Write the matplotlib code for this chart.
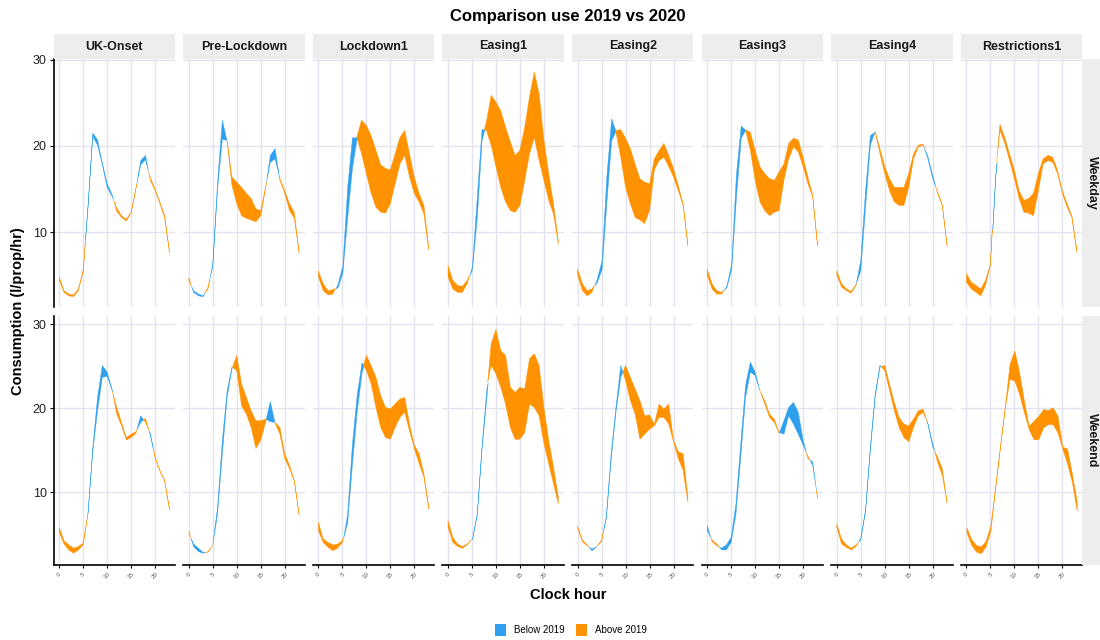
import numpy as np
import matplotlib
matplotlib.use('Agg')
import matplotlib.pyplot as plt
from matplotlib.patches import Patch

plt.rcParams['font.family'] = ['Liberation Sans', 'DejaVu Sans']

hours = np.arange(24)
periods = ['UK-Onset', 'Pre-Lockdown', 'Lockdown1', 'Easing1',
           'Easing2', 'Easing3', 'Easing4', 'Restrictions1']
day_types = ['Weekday', 'Weekend']

# consumption (l/prop/hr) by clock hour, one list per period
weekday_2019 = [
    [4.4, 3.0, 2.6, 2.5, 3.2, 5.4, 13.0, 21.5, 20.7, 18.0, 15.6, 14.4, 12.4, 11.7, 11.3, 12.2, 15.0, 18.3, 18.9, 16.0, 14.8, 13.3, 11.6, 7.6],
    [4.4, 3.2, 2.8, 2.6, 3.4, 6.3, 15.8, 23.0, 20.5, 15.4, 13.3, 11.9, 11.6, 11.4, 11.2, 11.9, 15.0, 18.9, 19.7, 16.0, 14.5, 12.5, 11.6, 7.6],
    [4.8, 3.2, 2.7, 2.8, 4.0, 6.1, 15.2, 21.0, 21.0, 19.1, 16.8, 14.5, 12.9, 12.3, 12.2, 13.3, 15.6, 17.9, 18.9, 16.4, 14.5, 13.5, 12.1, 7.9],
    [4.8, 3.4, 3.0, 3.0, 4.0, 6.1, 14.1, 22.0, 21.8, 20.1, 17.6, 15.2, 13.5, 12.5, 12.3, 13.1, 16.0, 19.1, 21.0, 18.3, 16.0, 13.7, 12.1, 8.6],
    [5.0, 3.2, 2.6, 3.0, 4.6, 6.7, 16.5, 23.2, 21.6, 18.7, 15.2, 13.3, 11.7, 11.4, 11.0, 12.5, 17.2, 18.3, 18.7, 17.6, 16.4, 14.8, 13.1, 8.4],
    [5.0, 3.4, 2.8, 2.8, 3.8, 6.3, 16.8, 22.4, 21.8, 19.5, 16.0, 13.5, 12.5, 11.9, 12.3, 12.5, 16.0, 18.5, 19.9, 19.3, 17.6, 15.6, 14.1, 8.4],
    [5.0, 3.6, 3.2, 2.9, 3.8, 6.7, 14.8, 21.2, 21.6, 19.1, 16.8, 14.8, 13.5, 13.1, 13.1, 15.2, 18.5, 19.9, 20.1, 18.8, 16.6, 14.5, 13.1, 8.4],
    [4.2, 3.4, 3.0, 2.6, 3.8, 6.1, 16.6, 21.8, 20.3, 18.3, 16.2, 13.9, 12.3, 12.2, 11.9, 14.8, 17.9, 18.3, 18.1, 16.8, 14.5, 12.9, 11.7, 7.7],
]
weekday_2020 = [
    [4.8, 3.2, 2.8, 2.7, 3.4, 5.6, 12.8, 21.1, 20.1, 17.8, 15.2, 14.2, 12.8, 11.9, 11.5, 12.3, 15.1, 17.8, 18.4, 16.3, 15.0, 13.5, 11.9, 7.7],
    [4.7, 3.0, 2.6, 2.5, 3.6, 6.0, 15.0, 20.8, 20.6, 16.4, 15.8, 15.2, 14.5, 13.9, 12.7, 12.5, 15.2, 18.1, 18.5, 16.2, 14.8, 13.3, 12.3, 7.7],
    [5.5, 4.0, 3.2, 3.3, 3.6, 5.3, 11.7, 17.5, 21.0, 23.0, 22.4, 21.2, 19.5, 17.8, 17.4, 17.2, 19.1, 21.0, 21.8, 19.1, 16.4, 14.5, 13.1, 8.3],
    [6.1, 4.4, 3.8, 3.7, 4.4, 5.7, 11.7, 20.7, 22.8, 25.9, 25.1, 24.1, 22.2, 20.5, 18.9, 19.5, 22.2, 25.7, 28.6, 26.1, 20.7, 16.8, 13.3, 9.0],
    [5.7, 4.0, 3.2, 3.4, 4.2, 5.7, 13.5, 20.7, 21.8, 21.9, 20.9, 19.7, 17.9, 16.2, 15.8, 15.6, 18.5, 19.5, 20.3, 18.9, 17.4, 15.4, 13.3, 8.6],
    [5.7, 4.0, 3.2, 3.0, 3.6, 5.7, 14.1, 21.0, 21.9, 21.6, 19.5, 17.6, 16.8, 16.2, 16.0, 17.0, 17.9, 20.3, 20.9, 20.7, 18.7, 16.4, 14.3, 8.6],
    [5.5, 4.0, 3.4, 3.1, 3.9, 5.5, 12.9, 20.1, 21.7, 19.7, 17.6, 16.2, 15.2, 15.2, 15.2, 16.8, 19.1, 20.1, 20.2, 18.5, 16.2, 14.7, 13.2, 8.4],
    [5.2, 4.2, 3.8, 3.4, 4.4, 6.3, 16.3, 22.5, 21.0, 19.1, 17.2, 14.8, 13.7, 13.9, 14.5, 16.8, 18.5, 18.9, 18.7, 17.2, 14.8, 13.3, 11.9, 8.1],
]
weekend_2019 = [
    [5.2, 3.8, 3.1, 2.7, 3.1, 3.7, 7.4, 15.3, 21.3, 25.1, 24.3, 22.3, 19.3, 17.9, 16.2, 16.5, 17.0, 19.1, 18.3, 17.0, 14.1, 12.5, 11.3, 7.9],
    [5.1, 3.8, 3.3, 2.8, 2.8, 3.7, 8.2, 16.2, 22.1, 24.9, 24.5, 20.3, 19.3, 17.7, 15.2, 16.2, 18.3, 20.8, 18.2, 16.9, 14.0, 12.8, 11.3, 7.3],
    [5.4, 4.0, 3.4, 3.0, 3.3, 4.0, 7.4, 15.8, 21.7, 25.5, 24.5, 22.9, 20.1, 17.7, 16.5, 16.3, 17.7, 18.9, 19.5, 17.3, 15.2, 13.4, 11.8, 8.0],
    [5.8, 4.0, 3.5, 3.3, 3.7, 4.4, 7.5, 15.6, 22.3, 25.1, 24.1, 22.5, 20.5, 17.7, 16.3, 16.3, 17.1, 20.5, 20.1, 19.1, 15.8, 13.4, 11.0, 8.6],
    [5.7, 4.1, 3.6, 3.2, 3.5, 4.1, 7.1, 14.6, 20.1, 25.1, 23.3, 20.9, 19.3, 16.3, 16.9, 17.5, 17.9, 18.9, 18.9, 18.1, 16.0, 14.0, 12.6, 8.8],
    [6.0, 4.1, 3.6, 3.3, 3.7, 4.6, 8.6, 15.8, 22.7, 25.5, 24.3, 22.1, 20.5, 18.9, 18.3, 17.0, 18.5, 20.1, 20.7, 19.5, 16.2, 14.0, 13.6, 9.3],
    [5.8, 3.8, 3.4, 3.1, 3.5, 4.5, 7.9, 15.4, 21.7, 25.1, 24.5, 22.1, 19.7, 17.7, 16.5, 16.0, 17.7, 19.1, 19.5, 18.2, 15.8, 13.6, 12.0, 8.7],
    [5.2, 3.7, 2.9, 2.7, 3.5, 5.4, 10.5, 15.3, 20.0, 23.5, 23.3, 21.7, 19.5, 17.5, 16.3, 16.3, 17.7, 18.1, 18.1, 17.1, 15.2, 13.4, 11.2, 7.8],
]
weekend_2020 = [
    [5.8, 4.2, 3.7, 3.3, 3.5, 3.9, 7.4, 14.8, 19.7, 23.7, 23.8, 22.2, 20.1, 18.3, 16.5, 16.9, 17.2, 18.3, 18.8, 16.8, 14.2, 12.6, 11.4, 8.0],
    [5.3, 3.5, 2.9, 2.7, 2.9, 3.7, 7.4, 14.6, 21.3, 24.7, 26.3, 22.9, 21.3, 19.7, 18.5, 18.5, 18.7, 18.4, 18.3, 17.7, 14.6, 13.2, 11.4, 7.4],
    [6.4, 4.4, 4.0, 3.7, 3.8, 4.2, 6.4, 13.4, 19.7, 24.3, 26.3, 25.1, 23.7, 21.5, 20.1, 19.9, 20.5, 21.1, 21.3, 18.1, 15.6, 14.6, 12.2, 8.3],
    [6.6, 4.6, 3.8, 3.5, 3.8, 4.4, 7.3, 15.2, 21.3, 27.7, 29.4, 26.9, 26.3, 22.5, 21.9, 22.5, 22.3, 25.9, 26.5, 25.1, 20.1, 16.2, 13.0, 9.4],
    [5.9, 4.3, 3.7, 3.0, 3.5, 4.3, 6.9, 13.9, 19.5, 23.7, 25.1, 23.7, 22.3, 20.9, 19.1, 19.2, 18.1, 20.5, 19.9, 20.5, 16.2, 14.8, 14.6, 9.4],
    [5.4, 4.3, 3.8, 3.1, 3.1, 4.0, 7.4, 14.2, 21.3, 24.3, 23.9, 22.1, 20.9, 19.3, 18.7, 17.1, 16.9, 19.1, 18.1, 16.9, 15.6, 14.3, 13.2, 9.4],
    [6.2, 4.4, 3.7, 3.3, 3.7, 4.3, 7.7, 15.0, 21.3, 24.9, 25.1, 22.9, 20.7, 18.9, 18.1, 17.9, 18.7, 19.7, 19.9, 18.1, 15.4, 14.2, 12.8, 8.8],
    [5.8, 4.4, 3.7, 3.5, 4.2, 6.0, 10.7, 15.5, 20.2, 25.3, 26.9, 24.3, 20.9, 17.9, 18.5, 19.1, 19.9, 19.8, 20.1, 19.1, 15.4, 15.2, 12.2, 9.0],
]

blue = '#2EA0EE'
orange = '#FF9200'
grid_col = '#E3E3EE'
strip_col = '#EDEDED'

W, H = 1100, 640
fig = plt.figure(figsize=(W / 100, H / 100), dpi=100)


def box(x, y, w, h):
    # pixel box (top-left origin) -> figure fraction
    return [x / W, 1 - (y + h) / H, w / W, h / H]


panel_w, step = 121.3, 129.6
rows = [(weekday_2019, weekday_2020, 59, 248, (1.3, 30.1)),
        (weekend_2019, weekend_2020, 316, 249, (1.3, 31.0))]

for r, (base, cur, top, height, ylim) in enumerate(rows):
    for i, period in enumerate(periods):
        left = 53.7 + i * step
        ax = fig.add_axes(box(left, top, panel_w, height))
        y19 = np.array(base[i])
        y20 = np.array(cur[i])
        ax.fill_between(hours, y19, y20, where=y20 < y19, interpolate=True,
                        facecolor=blue, edgecolor=blue, lw=0.3)
        ax.fill_between(hours, y19, y20, where=y20 >= y19, interpolate=True,
                        facecolor=orange, edgecolor=orange, lw=0.3)
        ax.set_xlim(-1.15, 24.15)
        ax.set_ylim(*ylim)
        ax.set_xticks([0, 5, 10, 15, 20])
        ax.set_yticks([10, 20, 30])
        ax.grid(True, color=grid_col, lw=1.0)
        ax.set_axisbelow(True)
        for s in ax.spines.values():
            s.set_visible(False)

        if i == 0:
            ax.spines['left'].set_visible(True)
            ax.spines['left'].set_linewidth(1.2)
            ax.tick_params(axis='y', length=3, width=0.8, labelsize=9,
                           labelcolor='#222222', pad=2)
        else:
            ax.tick_params(axis='y', length=0, labelleft=False)

        if r == 1:
            ax.spines['bottom'].set_visible(True)
            ax.spines['bottom'].set_linewidth(1.2)
            ax.tick_params(axis='x', length=2.5, width=0.8, labelsize=4.5,
                           labelcolor='#555555', pad=2)
            for lab in ax.get_xticklabels():
                lab.set_rotation(45)
        else:
            ax.tick_params(axis='x', length=0, labelbottom=False)

        if r == 0:
            st = fig.add_axes(box(left, 34, panel_w, 25))
            st.set_facecolor(strip_col)
            st.set_xticks([])
            st.set_yticks([])
            for s in st.spines.values():
                s.set_visible(False)
            st.text(0.5, 0.5, period, ha='center', va='center',
                    fontsize=9, fontweight='bold', color='#1a1a1a',
                    transform=st.transAxes)

    rs = fig.add_axes(box(1082, top, 18, height))
    rs.set_facecolor(strip_col)
    rs.set_xticks([])
    rs.set_yticks([])
    for s in rs.spines.values():
        s.set_visible(False)
    rs.text(0.55, 0.5, day_types[r], ha='center', va='center', rotation=-90,
            fontsize=9, fontweight='bold', color='#1a1a1a',
            transform=rs.transAxes)

fig.text(568 / W, 1 - 16 / H, 'Comparison use 2019 vs 2020', ha='center',
         va='center', fontsize=12, fontweight='bold')
fig.text(18 / W, 1 - 311 / H, 'Consumption (l/prop/hr)', ha='center',
         va='center', rotation=90, fontsize=10.5, fontweight='bold')
fig.text(568 / W, 1 - 595 / H, 'Clock hour', ha='center', va='center',
         fontsize=10.5, fontweight='bold')

handles = [Patch(facecolor=blue, edgecolor='none', label='Below 2019'),
           Patch(facecolor=orange, edgecolor='none', label='Above 2019')]
fig.legend(handles=handles, loc='center', bbox_to_anchor=(571 / W, 1 - 630 / H),
           ncol=2, frameon=False, fontsize=7, handlelength=1.1,
           handleheight=1.4, handletextpad=0.8, columnspacing=1.2)

fig.savefig('out.png', dpi=100)
